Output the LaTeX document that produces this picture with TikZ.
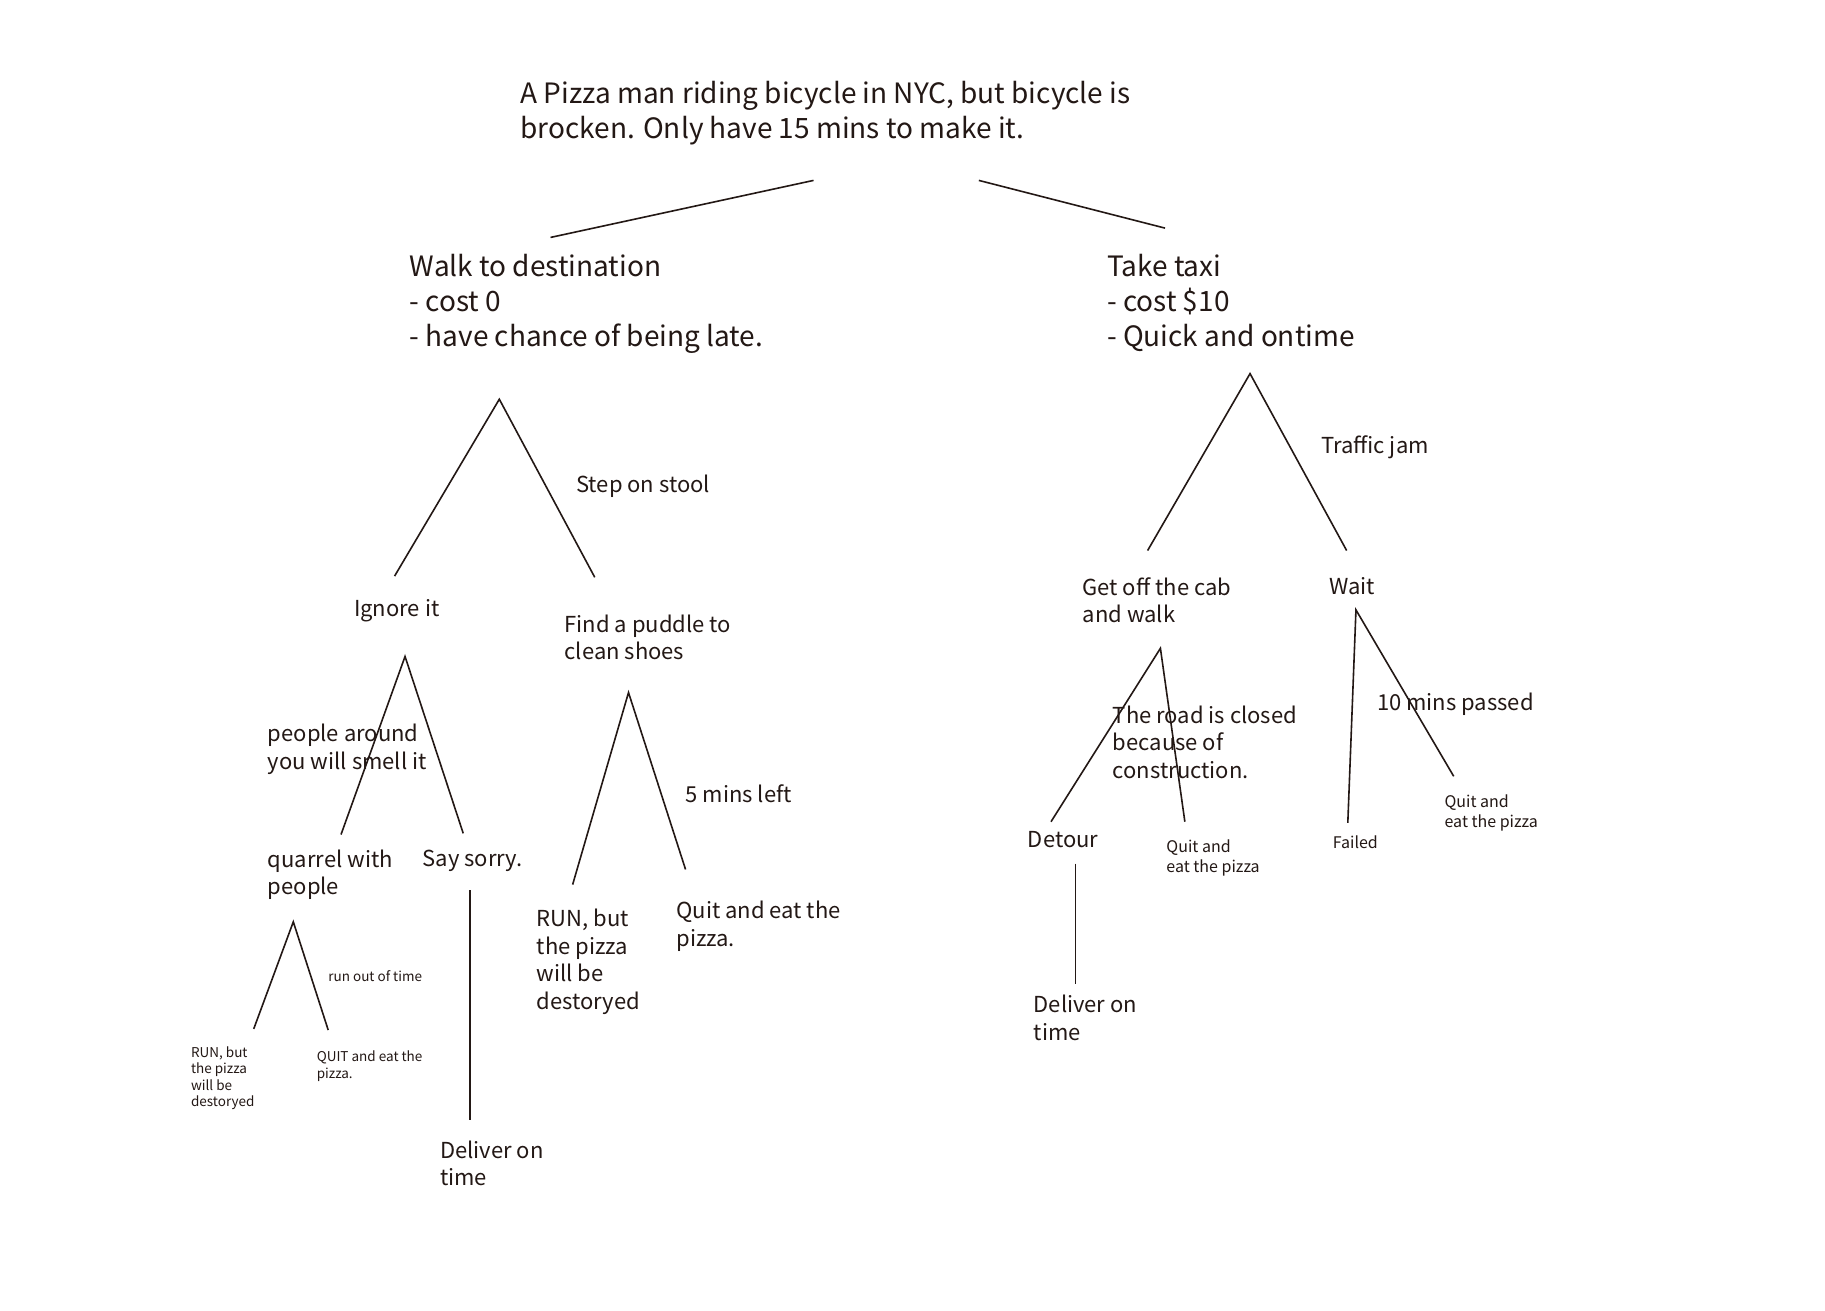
\documentclass[tikz,border=0pt]{standalone}
\usepackage{fontspec}
\setmainfont{Noto Sans CJK SC}
\definecolor{ink}{RGB}{35,24,21}
\tikzset{
  big/.style={anchor=north west,inner sep=0pt,align=left,text=ink,font=\fontsize{28}{35}\selectfont},
  mid/.style={anchor=north west,inner sep=0pt,align=left,text=ink,font=\fontsize{22}{27.5}\selectfont},
  small/.style={anchor=north west,inner sep=0pt,align=left,text=ink,font=\fontsize{16}{20}\selectfont},
  tiny/.style={anchor=north west,inner sep=0pt,align=left,text=ink,font=\fontsize{13.5}{16.5}\selectfont},
  branch/.style={draw=ink,line width=1.6pt}
}
\begin{document}
\begin{tikzpicture}[x=1.1639pt,y=-1.1639pt]
\useasboundingbox[fill=white] (0,0) rectangle (1568,1126);
% texts
\node[big] (title) at (447,70) {A Pizza man riding bicycle in NYC, but bicycle is\\brocken. Only have 15 mins to make it.};
\node[big] (walk) at (352,218) {Walk to destination\\- cost 0\\- have chance of being late.};
\node[big] (taxi) at (951,218) {Take taxi\\- cost \$10\\- Quick and ontime};
\node[mid] (stool) at (495,408) {Step on stool};
\node[mid] (ignore) at (304,515) {Ignore it};
\node[mid] (puddle) at (485,528) {Find a puddle to\\clean shoes};
\node[mid] (smell) at (230,622) {people around\\you will smell it};
\node[mid] (quarrel) at (230,730) {quarrel with\\people};
\node[mid] (sorry) at (363,730) {Say sorry.};
\node[tiny] (runout) at (282,834) {run out of time};
\node[tiny] (run1) at (164,899) {RUN, but\\the pizza\\will be\\destoryed};
\node[tiny] (quit1) at (272,903) {QUIT and eat the\\pizza.};
\node[mid] (deliver1) at (378,980) {Deliver on\\time};
\node[mid] (fivemin) at (589,674) {5 mins left};
\node[mid] (run2) at (461,781) {RUN, but\\the pizza\\will be\\destoryed};
\node[mid] (quit2) at (581,774) {Quit and eat the\\pizza.};
\node[mid] (jam) at (1135,374) {Traffic jam};
\node[mid] (getoff) at (930,496) {Get off the cab\\and walk};
\node[mid] (wait) at (1142,496) {Wait};
\node[mid] (road) at (956,606) {The road is closed\\because of\\construction.};
\node[mid] (detour) at (883,714) {Detour};
\node[mid] (deliver2) at (888,855) {Deliver on\\time};
\node[small] (quit3) at (1002,721) {Quit and\\eat the pizza};
\node[mid] (tenmin) at (1183,595) {10 mins passed};
\node[small] (failed) at (1145,718) {Failed};
\node[small] (quit4) at (1241,683) {Quit and\\eat the pizza};
% connector points
\coordinate (t1a) at (699,155); \coordinate (t1b) at (473,204);
\coordinate (t2a) at (841,155); \coordinate (t2b) at (1001,196);
\coordinate (wA) at (429,343); \coordinate (wL) at (339,495); \coordinate (wR) at (511,496);
\coordinate (iA) at (348,564); \coordinate (iL) at (293,717); \coordinate (iR) at (398,716);
\coordinate (qA) at (252,792); \coordinate (qL) at (218,884); \coordinate (qR) at (282,885);
\coordinate (sA) at (404,765); \coordinate (sB) at (404,962);
\coordinate (pA) at (540,595); \coordinate (pL) at (492,760); \coordinate (pR) at (589,747);
\coordinate (xA) at (1074,321); \coordinate (xL) at (986,473); \coordinate (xR) at (1157,473);
\coordinate (gA) at (997,557); \coordinate (gL) at (903,706); \coordinate (gR) at (1018,706);
\coordinate (dA) at (924,742); \coordinate (dB) at (924,845);
\coordinate (aA) at (1165,524); \coordinate (aL) at (1158,707); \coordinate (aR) at (1249,667);
% connectors
\draw[branch] (t1a) -- (t1b);
\draw[branch] (t2a) -- (t2b);
\draw[branch] (wL) -- (wA) -- (wR);
\draw[branch] (iL) -- (iA) -- (iR);
\draw[branch] (qL) -- (qA) -- (qR);
\draw[branch] (sA) -- (sB);
\draw[branch] (pL) -- (pA) -- (pR);
\draw[branch] (xL) -- (xA) -- (xR);
\draw[branch] (gL) -- (gA) -- (gR);
\draw[branch] (dA) -- (dB);
\draw[branch] (aL) -- (aA) -- (aR);
\end{tikzpicture}
\end{document}
